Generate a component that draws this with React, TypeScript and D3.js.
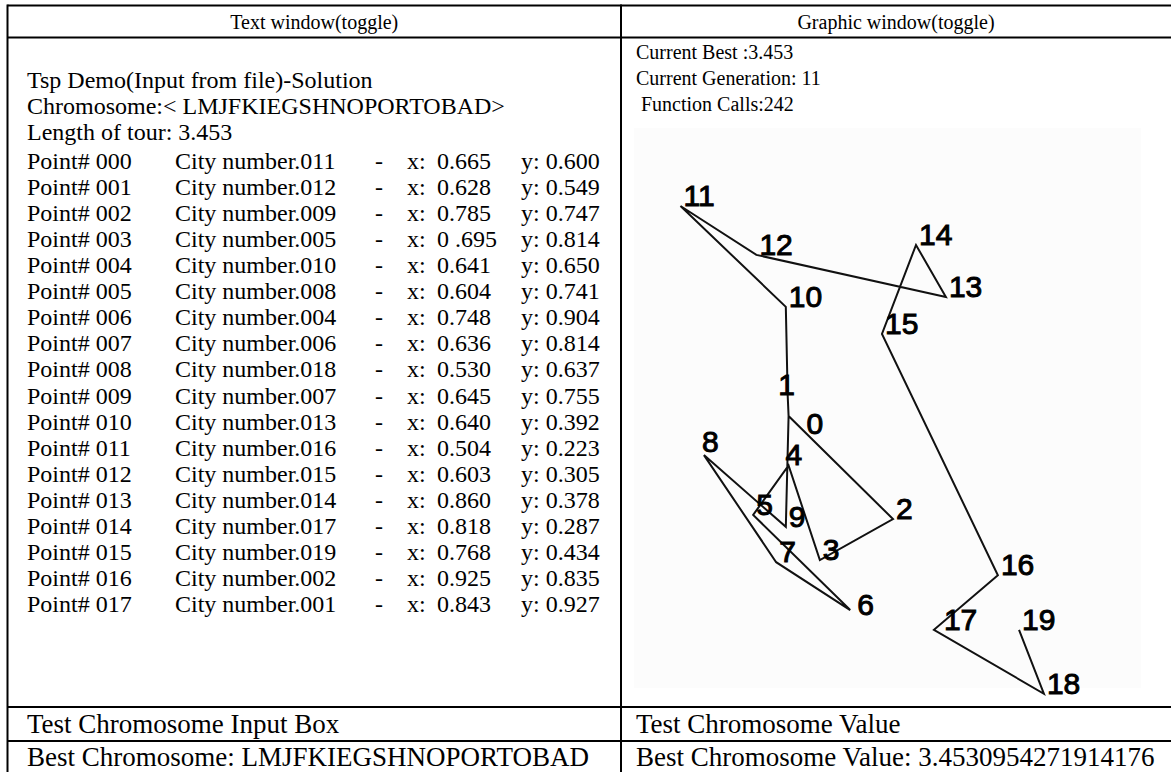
import React from "react";
import * as d3 from "d3";

// ---------- data ----------
const headerLeft = "Text window(toggle)";
const headerRight = "Graphic window(toggle)";
const introLines = [
  "Tsp Demo(Input from file)-Solution",
  "Chromosome:< LMJFKIEGSHNOPORTOBAD>",
  "Length of tour: 3.453",
];
const pointIds = ["000","001","002","003","004","005","006","007","008","009","010","011","012","013","014","015","016","017"];
const cityNumbers = ["011","012","009","005","010","008","004","006","018","007","013","016","015","014","017","019","002","001"];
const pointX = ["0.665","0.628","0.785","0 .695","0.641","0.604","0.748","0.636","0.530","0.645","0.640","0.504","0.603","0.860","0.818","0.768","0.925","0.843"];
const pointY = ["0.600","0.549","0.747","0.814","0.650","0.741","0.904","0.814","0.637","0.755","0.392","0.223","0.305","0.378","0.287","0.434","0.835","0.927"];
const statusLines = ["Current Best :3.453", "Current Generation: 11", " Function Calls:242"];
const footerLeft = ["Test Chromosome Input Box", "Best Chromosome: LMJFKIEGSHNOPORTOBAD"];
const footerRight = ["Test Chromosome Value", "Best Chromosome Value: 3.4530954271914176"];

// graphic window: city positions (normalised plot units)
const cityLabels = ["0","1","2","3","4","5","6","7","8","9","10","11","12","13","14","15","16","17","18","19"];
const cityX = [0.323,0.321,0.550,0.391,0.323,0.246,0.457,0.296,0.139,0.317,0.317,0.088,0.253,0.665,0.600,0.526,0.778,0.639,0.878,0.824];
const cityY = [0.454,0.413,0.652,0.731,0.549,0.644,0.827,0.735,0.529,0.667,0.244,0.050,0.144,0.225,0.125,0.296,0.760,0.865,0.988,0.865];
const tourOrder = [19,18,17,16,15,14,13,12,11,10,1,0,2,3,4,5,6,7,8,9,0];

// ---------- layout / style ----------
const W = 1171, H = 772;
const LEFT = 7.5, TOP = 5.5, HEAD = 37.5, MID = 621, ROW1 = 707, ROW2 = 741;
const SERIF = "'Liberation Serif', 'Times New Roman', serif";
const SANS = "'Liberation Sans', Arial, sans-serif";
const labelOffsets: Record<string, [number, number]> = {
  "0": [18, 18], "1": [-9.5, 0], "4": [-3, 0], "6": [7, 5], "17": [10, 0], "8": [-2, -3],
};
const colX = { point: 27, city: 175, dash: 375, xl: 407, xv: 437, y: 521 };

export default function App() {
  const xs = d3.scaleLinear().domain([0, 1]).range([640, 1100]);
  const ys = d3.scaleLinear().domain([0, 1]).range([180, 700]);
  const line = d3.line<number>().x((i) => xs(cityX[i])).y((i) => ys(cityY[i]));
  const rowY = d3.scaleLinear().domain([0, pointIds.length - 1]).range([169, 612]);

  return (
    <svg width={W} height={H} style={{ position: "absolute", left: 0, top: 0, background: "#fff" }}>
      <rect x={0} y={0} width={W} height={H} fill="#fff" />
      <rect x={634} y={128} width={507} height={560} fill="#fcfcfc" />
      {/* table lines */}
      <g stroke="#000" strokeWidth={2} fill="none">
        <line x1={LEFT} y1={TOP} x2={W} y2={TOP} />
        <line x1={LEFT} y1={HEAD} x2={W} y2={HEAD} />
        <line x1={LEFT} y1={ROW1} x2={W} y2={ROW1} />
        <line x1={LEFT} y1={ROW2} x2={W} y2={ROW2} />
        <line x1={LEFT} y1={TOP - 1} x2={LEFT} y2={H} />
        <line x1={MID} y1={TOP - 1} x2={MID} y2={H} />
      </g>
      {/* headers */}
      <g fontFamily={SERIF} fontSize={20} fill="#000">
        <text x={(LEFT + MID) / 2} y={29} textAnchor="middle">{headerLeft}</text>
        <text x={(MID + W) / 2} y={29} textAnchor="middle">{headerRight}</text>
      </g>
      {/* text window */}
      <g fontFamily={SERIF} fontSize={24} fill="#000">
        {introLines.map((t, i) => (
          <text key={t} x={colX.point} y={88 + i * 26} style={{ whiteSpace: "pre" }}>{t}</text>
        ))}
        {pointIds.map((p, i) => (
          <g key={p}>
            <text x={colX.point} y={rowY(i)}>{`Point# ${p}`}</text>
            <text x={colX.city} y={rowY(i)}>{`City number.${cityNumbers[i]}`}</text>
            <text x={colX.dash} y={rowY(i)}>-</text>
            <text x={colX.xl} y={rowY(i)}>x:</text>
            <text x={colX.xv} y={rowY(i)} style={{ whiteSpace: "pre" }}>{pointX[i]}</text>
            <text x={colX.y} y={rowY(i)}>{`y: ${pointY[i]}`}</text>
          </g>
        ))}
      </g>
      {/* status */}
      <g fontFamily={SERIF} fontSize={20} fill="#000">
        {statusLines.map((t, i) => (
          <text key={t} x={636} y={59 + i * 26} style={{ whiteSpace: "pre" }}>{t}</text>
        ))}
      </g>
      {/* tour */}
      <path d={line(tourOrder) ?? ""} fill="none" stroke="#111" strokeWidth={2} strokeLinejoin="miter" />
      <g fontFamily={SANS} fontSize={30} fill="#000" stroke="#000" strokeWidth={1}>
        {cityLabels.map((c, i) => {
          const off = labelOffsets[c] ?? [3, 0];
          return (
            <text key={c} x={xs(cityX[i]) + off[0]} y={ys(cityY[i]) + off[1]}>{c}</text>
          );
        })}
      </g>
      {/* footer */}
      <g fontFamily={SERIF} fontSize={27} fill="#000">
        <text x={27} y={733}>{footerLeft[0]}</text>
        <text x={27} y={766}>{footerLeft[1]}</text>
        <text x={636} y={733}>{footerRight[0]}</text>
        <text x={636} y={766}>{footerRight[1]}</text>
      </g>
    </svg>
  );
}
